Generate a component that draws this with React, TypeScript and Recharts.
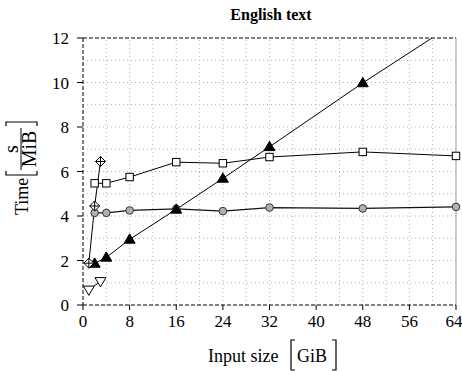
import React from "react";
import { LineChart, Line, XAxis, YAxis, ReferenceLine } from "recharts";

/* ── data ──────────────────────────────────────── */
const circleX = [2, 4, 8, 16, 24, 32, 48, 64];
const circleY = [4.14, 4.14, 4.25, 4.32, 4.22, 4.38, 4.34, 4.41];

const squareX = [2, 4, 8, 16, 24, 32, 48, 64];
const squareY = [5.47, 5.47, 5.75, 6.42, 6.37, 6.65, 6.88, 6.7];

const triangleX = [2, 4, 8, 16, 24, 32, 48, 64];
const triangleY = [1.87, 2.14, 2.95, 4.3, 5.69, 7.11, 9.98, 12.7];

const diamondX = [1, 2, 3];
const diamondY = [1.88, 4.45, 6.45];

const downX = [1, 3];
const downY = [0.68, 1.06];

const X_TICKS = [0, 8, 16, 24, 32, 40, 48, 56, 64];
const Y_TICKS = [0, 2, 4, 6, 8, 10, 12];
const GRID_X = [4, 8, 12, 16, 20, 24, 28, 32, 36, 40, 44, 48, 52, 56, 60];
const GRID_Y = [1, 2, 3, 4, 5, 6, 7, 8, 9, 10, 11];

const zip = (xs: number[], ys: number[]) => xs.map((x, i) => ({ x, y: ys[i] }));

const FONT = "'Liberation Serif', 'DejaVu Serif', serif";

/* ── markers ───────────────────────────────────── */
const circleDot = (p: any) => (
  <circle key={p.index} cx={p.cx} cy={p.cy} r={3.8} fill="#b0b0b0" stroke="#333" strokeWidth={1} />
);
const squareDot = (p: any) => (
  <rect key={p.index} x={p.cx - 3.7} y={p.cy - 3.7} width={7.4} height={7.4} fill="#fff" stroke="#000" strokeWidth={1} />
);
const triangleDot = (p: any) => (
  <path key={p.index} d={`M${p.cx},${p.cy - 5.5} L${p.cx + 5.5},${p.cy + 3.8} L${p.cx - 5.5},${p.cy + 3.8} Z`} fill="#000" stroke="#000" />
);
const downDot = (p: any) => (
  <path key={p.index} d={`M${p.cx},${p.cy + 5.5} L${p.cx + 5.5},${p.cy - 3.8} L${p.cx - 5.5},${p.cy - 3.8} Z`} fill="#fff" stroke="#000" />
);
const diamondDot = (p: any) => (
  <g key={p.index}>
    <path d={`M${p.cx},${p.cy - 5} L${p.cx + 5},${p.cy} L${p.cx},${p.cy + 5} L${p.cx - 5},${p.cy} Z`} fill="#fff" stroke="#000" />
    <path d={`M${p.cx},${p.cy - 5} V${p.cy + 5} M${p.cx - 5},${p.cy} H${p.cx + 5}`} stroke="#000" />
  </g>
);

/* ── serif tick labels ─────────────────────────── */
const XTick = (p: any) => (
  <text x={p.x} y={p.y + 14} textAnchor="middle" fontSize={17} fontFamily={FONT} fill="#000">
    {p.payload.value}
  </text>
);
const YTick = (p: any) => (
  <text x={p.x} y={p.y + 6} textAnchor="end" fontSize={17} fontFamily={FONT} fill="#000">
    {p.payload.value}
  </text>
);

export default function App() {
  return (
    <div style={{ position: "absolute", left: 0, top: 0, width: 462, height: 371, fontFamily: FONT }}>
      <LineChart width={462} height={371} margin={{ top: 38, right: 6, bottom: 36, left: 0 }}>
        <XAxis
          type="number"
          dataKey="x"
          domain={[0, 64]}
          ticks={X_TICKS}
          height={30}
          tickSize={5}
          tickMargin={3}
          tick={XTick}
          axisLine={{ stroke: "#000", strokeDasharray: "4 2" }}
          tickLine={{ stroke: "#000" }}
        />
        <YAxis
          type="number"
          domain={[0, 12]}
          ticks={Y_TICKS}
          width={83}
          allowDataOverflow
          tickSize={6}
          tickMargin={8}
          tick={YTick}
          axisLine={{ stroke: "#000", strokeDasharray: "4 2" }}
          tickLine={{ stroke: "#000" }}
        />
        {GRID_X.map((v) => (
          <ReferenceLine key={"gx" + v} x={v} stroke="#b5b5b5" strokeDasharray="1 3" />
        ))}
        {GRID_Y.map((v) => (
          <ReferenceLine key={"gy" + v} y={v} stroke="#b5b5b5" strokeDasharray="1 3" />
        ))}
        <ReferenceLine y={12} stroke="#000" strokeDasharray="4 2" />
        <ReferenceLine x={64} stroke="#999" />

        <Line data={zip(circleX, circleY)} dataKey="y" stroke="#111" strokeWidth={1.2} dot={circleDot} isAnimationActive={false} />
        <Line data={zip(squareX, squareY)} dataKey="y" stroke="#000" strokeWidth={1} dot={squareDot} isAnimationActive={false} />
        <Line data={zip(triangleX, triangleY)} dataKey="y" stroke="#000" strokeWidth={1} dot={triangleDot} isAnimationActive={false} />
        <Line data={zip(downX, downY)} dataKey="y" stroke="#000" strokeWidth={1} dot={downDot} isAnimationActive={false} />
        <Line data={zip(diamondX, diamondY)} dataKey="y" stroke="#000" strokeWidth={1} dot={diamondDot} isAnimationActive={false} />
      </LineChart>

      {/* title and axis labels */}
      <svg width={462} height={371} style={{ position: "absolute", left: 0, top: 0, pointerEvents: "none" }}>
        <text x={271} y={20} textAnchor="middle" fontWeight="bold" fontSize={16} fontFamily={FONT}>English text</text>

        <text x={208} y={362} fontSize={18} fontFamily={FONT}>Input size</text>
        <path d="M295,340 H291 V370 H295" fill="none" stroke="#000" strokeWidth={1.2} />
        <text x={297} y={362} fontSize={18} fontFamily={FONT}>GiB</text>
        <path d="M332,340 H336 V370 H332" fill="none" stroke="#000" strokeWidth={1.2} />

        <g transform="translate(21,215) rotate(-90)">
          <text x={0} y={7} fontSize={18} fontFamily={FONT}>Time</text>
          <path d="M44,-15 H40 V16 H44" fill="none" stroke="#000" strokeWidth={1.2} />
          <text x={66} y={-3} fontSize={20} textAnchor="middle" fontFamily={FONT}>s</text>
          <line x1={45} y1={0} x2={87} y2={0} stroke="#000" strokeWidth={1} />
          <text x={66} y={15} fontSize={20} textAnchor="middle" fontFamily={FONT}>MiB</text>
          <path d="M89,-15 H93 V16 H89" fill="none" stroke="#000" strokeWidth={1.2} />
        </g>
      </svg>
    </div>
  );
}
